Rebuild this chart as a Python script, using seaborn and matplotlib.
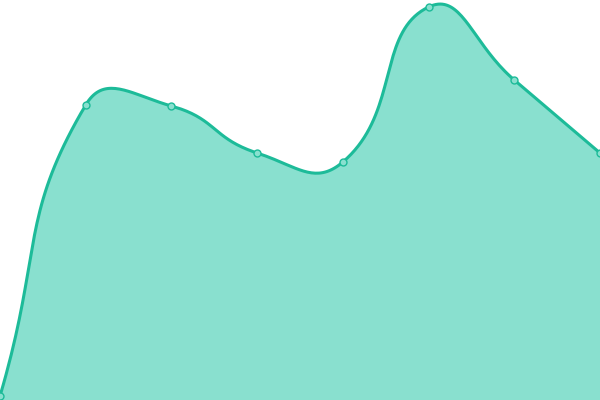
import matplotlib
matplotlib.use('Agg')
import matplotlib.pyplot as plt
import seaborn as sns
import numpy as np
import pandas as pd

# data
x_vals = [0, 1, 2, 3, 4, 5, 6, 7]
y_vals = [4, 295, 294, 247, 238, 393, 320, 247]

line_color = '#1dbb99'
fill_color = '#89e0cf'

X_SCALE = 600 / 7  # px per x unit, used only for segment lengths


def smooth_curve(xs, ys, smooth=0.5, n=40):
    # bezier smoothing with control points weighted by neighbouring segment lengths
    pts = np.column_stack([np.array(xs, float) * X_SCALE, np.array(ys, float)])
    m = len(pts)
    cps = []
    for i in range(m):
        prev = pts[i - 1] if i > 0 else pts[i]
        nxt = pts[i + 1] if i < m - 1 else pts[i]
        v = nxt - prev
        l0 = np.hypot(*(pts[i] - prev))
        l1 = np.hypot(*(nxt - pts[i]))
        r = l1 / (l0 + l1) if (l0 + l1) > 0 else 0.5
        cin = pts[i] - v * smooth * (1 - r)
        cout = pts[i] + v * smooth * r
        cps.append((cin, cout))
    t = np.linspace(0, 1, n)[:, None]
    out = []
    for i in range(m - 1):
        b0, b1, b2, b3 = pts[i], cps[i][1], cps[i + 1][0], pts[i + 1]
        seg = ((1 - t)**3 * b0 + 3 * (1 - t)**2 * t * b1
               + 3 * (1 - t) * t**2 * b2 + t**3 * b3)
        out.append(seg if i == 0 else seg[1:])
    out = np.vstack(out)
    out[:, 0] /= X_SCALE
    return out


smooth = smooth_curve(x_vals, y_vals)
df_smooth = pd.DataFrame({'x': smooth[:, 0], 'y': smooth[:, 1]})
df_pts = pd.DataFrame({'x': x_vals, 'y': y_vals})

sns.set_style('white')
fig = plt.figure(figsize=(6, 4), dpi=100)
ax = fig.add_axes([0, 0, 1, 1])

ax.fill_between(df_smooth['x'], df_smooth['y'], 0, color=fill_color, linewidth=0)
sns.lineplot(data=df_smooth, x='x', y='y', ax=ax, color=line_color, linewidth=2.2,
             sort=False, estimator=None)
sns.scatterplot(data=df_pts, x='x', y='y', ax=ax, color=fill_color, edgecolor=line_color,
                linewidth=1, s=25, zorder=5, clip_on=False)

ax.set_xlim(0, 7)
ax.set_ylim(0, 400)
ax.axis('off')

plt.savefig('out.png', dpi=100)
plt.close()
